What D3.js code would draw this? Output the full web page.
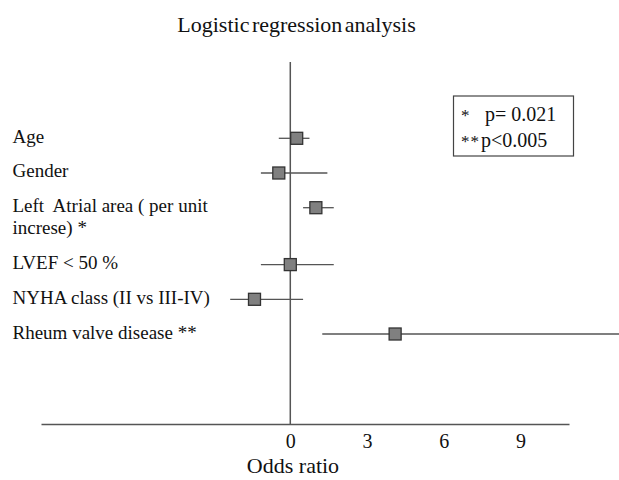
<!DOCTYPE html>
<html>
<head>
<meta charset="utf-8">
<script src="https://cdn.jsdelivr.net/npm/d3@7"></script>
<style>
  body { margin: 0; background: #fff; }
  svg text { font-family: "Liberation Serif", "DejaVu Serif", serif; }
</style>
</head>
<body>
<div id="chart"></div>
<script>
// forest plot data
const labels = [
  "Age",
  "Gender",
  "Left  Atrial area ( per unit|increse) *",
  "LVEF < 50 %",
  "NYHA class (II vs III-IV)",
  "Rheum valve disease **"
];
const oddsRatio = [0.25, -0.45, 1.0, 0.0, -1.4, 4.1];
const ciLow = [-0.45, -1.15, 0.5, -1.15, -2.35, 1.25];
const ciHigh = [0.75, 1.45, 1.7, 1.7, 0.5, 13];
const tickValues = [0, 3, 6, 9];
const legendMarks = ["*", "**"];
const legendText = ["p= 0.021", "p<0.005"];

const width = 619, height = 480;
const svg = d3.select("#chart").append("svg")
  .attr("width", width)
  .attr("height", height);

// rows: a label wrapping onto two lines pushes the rows below it down
const extraLine = 0.64;
let extra = 0;
const rows = labels.map((l, i) => {
  const lines = l.split("|");
  const slot = i + extra * extraLine;
  extra += lines.length - 1;
  return { lines, slot, or: oddsRatio[i], lo: ciLow[i], hi: ciHigh[i] };
});

const x = d3.scaleLinear().domain([-9.75, 10.9]).range([41, 569]);
const y = d3.scaleLinear()
  .domain([0, d3.max(rows, d => d.slot)])
  .range([138.3, 334]);

// title
svg.append("text")
  .attr("x", 296.5)
  .attr("y", 31.7)
  .attr("text-anchor", "middle")
  .style("font-size", "22px")
  .style("word-spacing", "-3px")
  .attr("fill", "#111")
  .text("Logistic regression analysis");

// x axis
const xAxis = d3.axisBottom(x)
  .tickValues(tickValues)
  .tickSize(0)
  .tickSizeOuter(0)
  .tickPadding(10)
  .tickFormat(d3.format("d"));

const xAxisG = svg.append("g")
  .attr("transform", `translate(0,424)`)
  .call(xAxis);
xAxisG.attr("font-family", null);
xAxisG.select(".domain").attr("stroke", "#555").attr("stroke-width", 1.5);
xAxisG.selectAll("text")
  .style("font-size", "20px")
  .attr("fill", "#111");

svg.append("text")
  .attr("x", 293)
  .attr("y", 473)
  .attr("text-anchor", "middle")
  .style("font-size", "22px")
  .attr("fill", "#111")
  .text("Odds ratio");

// reference line at zero
svg.append("line")
  .attr("x1", x(0)).attr("x2", x(0))
  .attr("y1", 62).attr("y2", 424)
  .attr("stroke", "#555")
  .attr("stroke-width", 1.5);

// row labels
const labelG = svg.append("g");
rows.forEach(r => {
  const t = labelG.append("text")
    .attr("x", 12.5)
    .attr("y", y(r.slot) + 4.5)
    .style("font-size", "19px")
    .style("white-space", "pre")
    .attr("fill", "#111");
  r.lines.forEach((line, j) => {
    t.append("tspan")
      .attr("x", 12.5)
      .attr("dy", j === 0 ? 0 : 21.5)
      .text(line);
  });
});

// confidence intervals
svg.append("g").selectAll("line")
  .data(rows)
  .enter().append("line")
  .attr("x1", d => x(d.lo))
  .attr("x2", d => x(d.hi))
  .attr("y1", d => y(d.slot))
  .attr("y2", d => y(d.slot))
  .attr("stroke", "#555")
  .attr("stroke-width", 1.3);

// point estimates
const sq = 12;
svg.append("g").selectAll("rect")
  .data(rows)
  .enter().append("rect")
  .attr("x", d => x(d.or) - sq / 2)
  .attr("y", d => y(d.slot) - sq / 2)
  .attr("width", sq)
  .attr("height", sq)
  .attr("fill", "#808080")
  .attr("stroke", "#333")
  .attr("stroke-width", 1.3);

// legend box
const legend = svg.append("g");
legend.append("rect")
  .attr("x", 453.5)
  .attr("y", 96)
  .attr("width", 120)
  .attr("height", 60)
  .attr("fill", "#fff")
  .attr("stroke", "#444")
  .attr("stroke-width", 1.2);

legendMarks.forEach((m, i) => {
  legend.append("text")
    .attr("x", 461)
    .attr("y", 121 + i * 25.7)
    .style("font-size", "17px")
    .style("letter-spacing", "1px")
    .attr("fill", "#111")
    .text(m);
  legend.append("text")
    .attr("x", i === 0 ? 485 : 481)
    .attr("y", 121 + i * 25.7)
    .style("font-size", "20px")
    .attr("fill", "#111")
    .text(legendText[i]);
});
</script>
</body>
</html>
